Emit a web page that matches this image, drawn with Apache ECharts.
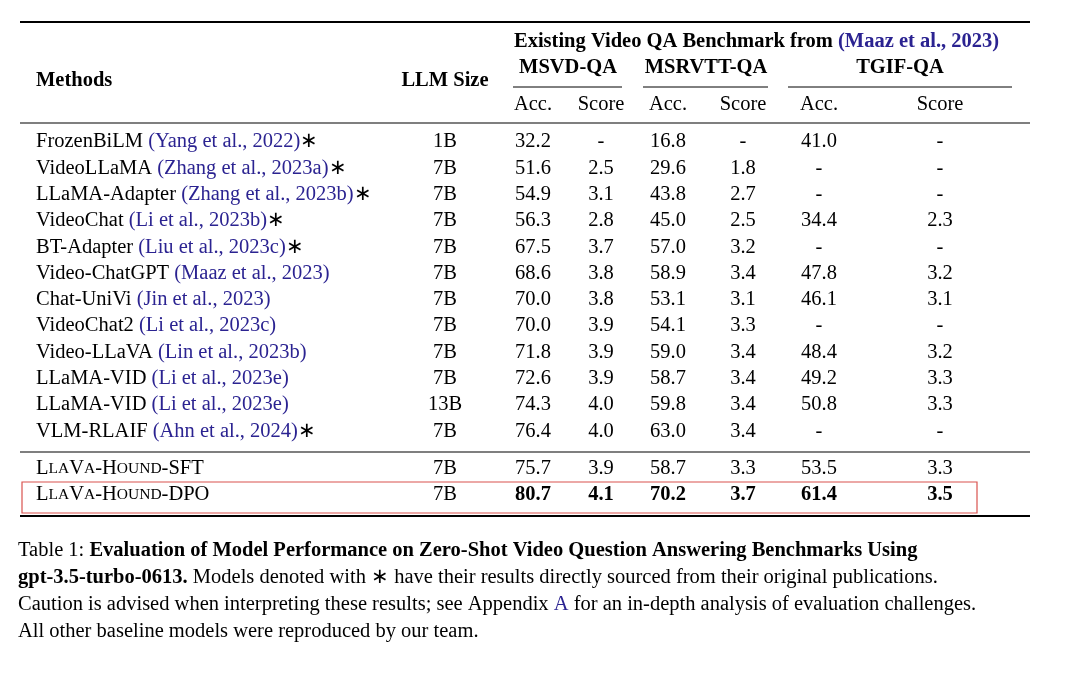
<!DOCTYPE html>
<html>
<head>
<meta charset="utf-8">
<script src="https://cdn.jsdelivr.net/npm/echarts@6/dist/echarts.min.js"></script>
<style>html,body{margin:0;padding:0;background:#fff}#main{width:1082px;height:682px}</style>
</head>
<body>
<div id="main"></div>
<script>
// 表格数据
var methods = ["FrozenBiLM", "VideoLLaMA", "LLaMA-Adapter", "VideoChat", "BT-Adapter", "Video-ChatGPT",
    "Chat-UniVi", "VideoChat2", "Video-LLaVA", "LLaMA-VID", "LLaMA-VID", "VLM-RLAIF"];
var cites = ["(Yang et al., 2022)", "(Zhang et al., 2023a)", "(Zhang et al., 2023b)", "(Li et al., 2023b)",
    "(Liu et al., 2023c)", "(Maaz et al., 2023)", "(Jin et al., 2023)", "(Li et al., 2023c)",
    "(Lin et al., 2023b)", "(Li et al., 2023e)", "(Li et al., 2023e)", "(Ahn et al., 2024)"];
var starred = [1, 1, 1, 1, 1, 0, 0, 0, 0, 0, 0, 1];
var sizes = ["1B", "7B", "7B", "7B", "7B", "7B", "7B", "7B", "7B", "7B", "13B", "7B"];
var values = [
    ["32.2", "-", "16.8", "-", "41.0", "-"],
    ["51.6", "2.5", "29.6", "1.8", "-", "-"],
    ["54.9", "3.1", "43.8", "2.7", "-", "-"],
    ["56.3", "2.8", "45.0", "2.5", "34.4", "2.3"],
    ["67.5", "3.7", "57.0", "3.2", "-", "-"],
    ["68.6", "3.8", "58.9", "3.4", "47.8", "3.2"],
    ["70.0", "3.8", "53.1", "3.1", "46.1", "3.1"],
    ["70.0", "3.9", "54.1", "3.3", "-", "-"],
    ["71.8", "3.9", "59.0", "3.4", "48.4", "3.2"],
    ["72.6", "3.9", "58.7", "3.4", "49.2", "3.3"],
    ["74.3", "4.0", "59.8", "3.4", "50.8", "3.3"],
    ["76.4", "4.0", "63.0", "3.4", "-", "-"]
];
var oursSuffix = ["SFT", "DPO"];
var oursSizes = ["7B", "7B"];
var oursValues = [
    ["75.7", "3.9", "58.7", "3.3", "53.5", "3.3"],
    ["80.7", "4.1", "70.2", "3.7", "61.4", "3.5"]
];
var benchmarks = ["MSVD-QA", "MSRVTT-QA", "TGIF-QA"];
var subHeads = ["Acc.", "Score", "Acc.", "Score", "Acc.", "Score"];

var FONT = "Liberation Serif";
var FS = 20.5;
var BLUE = "#2b2391";
var colX = [533, 601, 668, 743, 819, 940];
var benchX = [568, 706, 900];
var benchLine = [[513, 622], [643, 768], [788, 1012]];

var rich = {
    n: { fontFamily: FONT, fontSize: FS, fill: "#000" },
    c: { fontFamily: FONT, fontSize: FS, fill: BLUE },
    cb: { fontFamily: FONT, fontSize: FS, fill: BLUE, fontWeight: "bold" },
    b: { fontFamily: FONT, fontSize: FS, fill: "#000", fontWeight: "bold" },
    s: { fontFamily: FONT, fontSize: 15.5, fill: "#000" }
};

var g = [];
function txt(x, y, s, opt) {
    opt = opt || {};
    g.push({
        type: "text", x: x, y: y,
        style: {
            text: s, rich: rich, fontFamily: FONT, fontSize: FS,
            fontWeight: opt.bold ? "bold" : "normal", fill: "#000",
            align: opt.align || "left", verticalAlign: "middle"
        }
    });
}
function hline(x1, x2, y, w) {
    g.push({ type: "line", shape: { x1: x1, y1: y, x2: x2, y2: y }, style: { stroke: "#000", lineWidth: w } });
}

// 表头
hline(20, 1030, 22, 2);
txt(514, 42, "{b|Existing Video QA Benchmark from }{cb|(Maaz et al., 2023)}");
txt(36, 81, "Methods", { bold: true });
txt(445, 81, "LLM Size", { bold: true, align: "center" });
benchmarks.forEach(function(b, i) {
    txt(benchX[i], 68, b, { bold: true, align: "center" });
    hline(benchLine[i][0], benchLine[i][1], 87, 1);
});
subHeads.forEach(function(s, i) { txt(colX[i], 105, s, { align: "center" }); });
hline(20, 1030, 123, 1.2);

// 基线模型
methods.forEach(function(m, i) {
    var y = 142 + i * 26.3;
    txt(36, y, "{n|" + m + " }{c|" + cites[i] + "}" + (starred[i] ? "{n|∗}" : ""));
    txt(445, y, sizes[i], { align: "center" });
    values[i].forEach(function(v, j) { txt(colX[j], y, v, { align: "center" }); });
});
hline(20, 1030, 452, 1.2);

// 我们的模型
oursSuffix.forEach(function(suf, i) {
    var y = 469 + i * 26;
    var bold = i === 1;
    txt(36, y, "{n|L}{s|LA}{n|V}{s|A}{n|-H}{s|OUND}{n|-" + suf + "}");
    txt(445, y, oursSizes[i], { align: "center" });
    oursValues[i].forEach(function(v, j) { txt(colX[j], y, v, { align: "center", bold: bold }); });
});
hline(20, 1030, 516, 2);
g.push({ type: "rect", shape: { x: 22, y: 482, width: 955, height: 31 },
    style: { fill: "none", stroke: "#d9534f", lineWidth: 1.2 } });

// 标题说明
var capLines = [
    "{n|Table 1: }{b|Evaluation of Model Performance on Zero-Shot Video Question Answering Benchmarks Using}",
    "{b|gpt-3.5-turbo-0613.}{n| Models denoted with ∗ have their results directly sourced from their original publications.}",
    "{n|Caution is advised when interpreting these results; see Appendix }{c|A}{n| for an in-depth analysis of evaluation challenges.}",
    "{n|All other baseline models were reproduced by our team.}"
];
capLines.forEach(function(l, i) { txt(18, 551 + i * 26.8, l); });

var myChart = echarts.init(document.getElementById("main"));
myChart.setOption({ backgroundColor: "#fff", graphic: g });
</script>
</body>
</html>
